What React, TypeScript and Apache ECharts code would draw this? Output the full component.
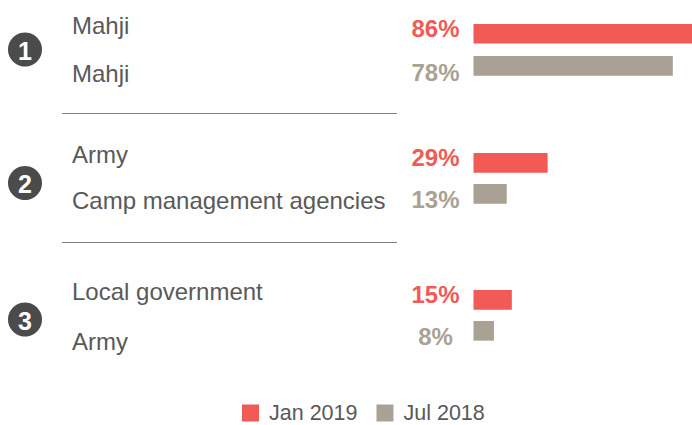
import React, { useEffect, useRef } from "react";
import * as echarts from "echarts";

const groupLabels: string[][] = [
  ["Mahji", "Mahji"],
  ["Army", "Camp management agencies"],
  ["Local government", "Army"],
];
const groupNumbers = ["1", "2", "3"];
const jan2019 = [86, 29, 15];
const jul2018 = [78, 13, 8];
const seriesNames = ["Jan 2019", "Jul 2018"];

const RED = "#f15a55";
const GREY = "#a9a294";
const TEXT = "#595959";
const FONT = "'Liberation Sans', Arial, sans-serif";

export default function App() {
  const ref = useRef<HTMLDivElement>(null);
  useEffect(() => {
    if (!ref.current) return;
    const chart = echarts.init(ref.current, null, { renderer: "svg" });

    const gridTops = [17.7, 147.3, 284.3];
    const gridHeights = [64.2, 62, 62];
    const labelYs = [
      [26, 74],
      [155, 201],
      [292, 342],
    ];
    const circleYs = [49.5, 183, 319.5];
    const lineYs = [113.5, 242.5];

    const grids = gridTops.map((t, i) => ({
      left: 473.5,
      right: 0,
      top: t,
      height: gridHeights[i],
    }));
    const xAxes = grids.map((_, i) => ({
      type: "value",
      gridIndex: i,
      min: 0,
      max: 85.5,
      show: false,
    }));
    const yAxes = grids.map((_, i) => ({
      type: "category",
      gridIndex: i,
      data: ["a", "b"],
      inverse: true,
      show: false,
    }));

    const valueLabel = (color: string, dy: number) => ({
      show: true,
      position: [-38, dy],
      align: "center",
      verticalAlign: "middle",
      formatter: "{c}%",
      color,
      fontFamily: FONT,
      fontWeight: "bold",
      fontSize: 24,
    });

    const series: any[] = [];
    grids.forEach((_, i) => {
      series.push({
        name: seriesNames[0],
        type: "bar",
        xAxisIndex: i,
        yAxisIndex: i,
        data: [jan2019[i], "-"],
        barWidth: 19.7,
        barGap: "-100%",
        itemStyle: { color: RED },
        label: valueLabel(RED, 4.5),
      });
      series.push({
        name: seriesNames[1],
        type: "bar",
        xAxisIndex: i,
        yAxisIndex: i,
        data: ["-", jul2018[i]],
        barWidth: 19.7,
        barGap: "-100%",
        itemStyle: { color: GREY },
        label: valueLabel(GREY, 16),
      });
    });

    const graphics: any[] = [];
    groupLabels.forEach((labels, gi) => {
      labels.forEach((lab, li) => {
        graphics.push({
          type: "text",
          left: 72,
          top: labelYs[gi][li] - 13,
          style: { text: lab, fill: TEXT, font: `24px ${FONT}` },
        });
      });
      graphics.push({
        type: "circle",
        shape: { cx: 25, cy: circleYs[gi], r: 17 },
        style: { fill: "#4b4b4b" },
      });
      graphics.push({
        type: "text",
        x: 25,
        y: circleYs[gi] + 1,
        style: {
          text: groupNumbers[gi],
          fill: "#ffffff",
          font: `bold 25px ${FONT}`,
          align: "center",
          verticalAlign: "middle",
        },
      });
    });
    lineYs.forEach((y) => {
      graphics.push({
        type: "line",
        shape: { x1: 62, y1: y, x2: 397, y2: y },
        style: { stroke: "#808080", lineWidth: 1 },
      });
    });

    chart.setOption({
      animation: false,
      textStyle: { fontFamily: FONT },
      grid: grids,
      xAxis: xAxes,
      yAxis: yAxes,
      legend: {
        data: seriesNames,
        left: 242,
        top: 402,
        padding: 0,
        icon: "rect",
        itemWidth: 17,
        itemHeight: 17,
        itemGap: 19,
        textStyle: {
          color: TEXT,
          fontSize: 21.5,
          fontFamily: FONT,
          padding: [0, 0, 0, 5],
        },
        selectedMode: false,
      },
      series,
      graphic: graphics,
    });
    return () => chart.dispose();
  }, []);
  return (
    <div
      ref={ref}
      style={{ width: 692, height: 425, position: "absolute", left: 0, top: 0 }}
    />
  );
}
